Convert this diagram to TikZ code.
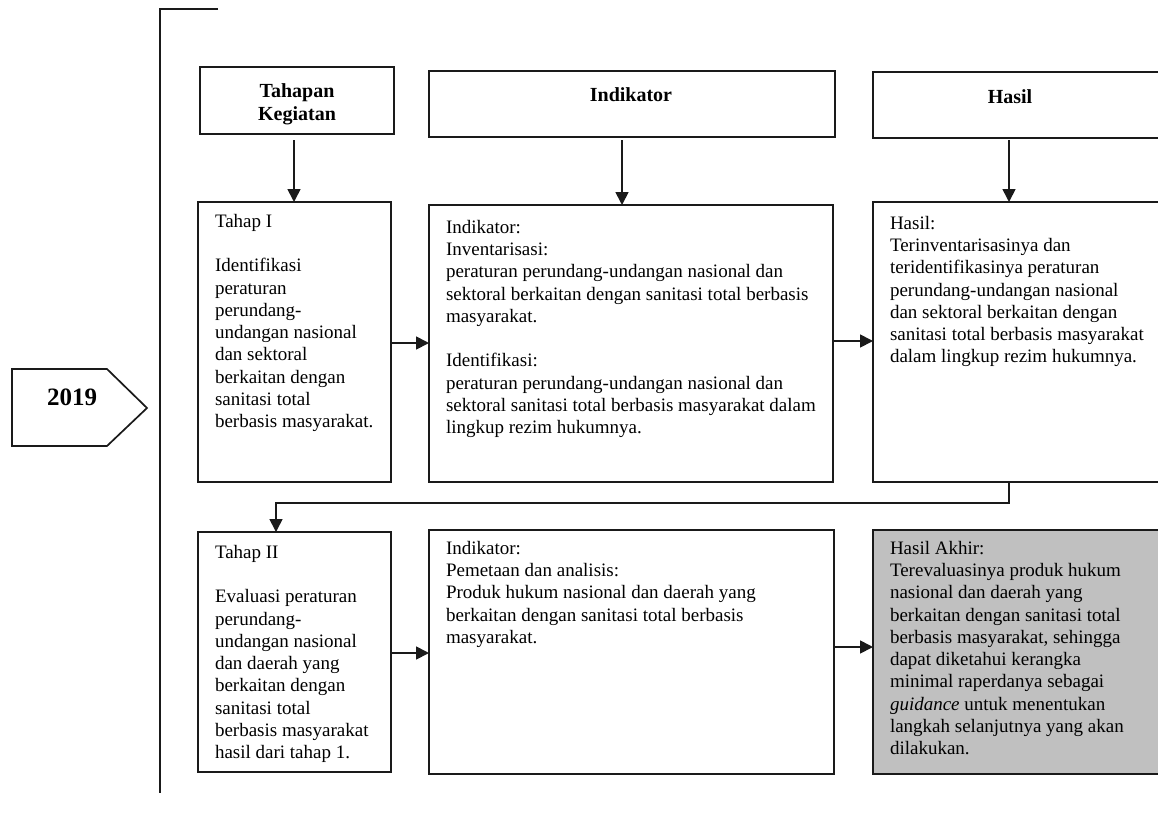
\documentclass[tikz,border=0pt]{standalone}
\usepackage{fontspec}
\setmainfont{Liberation Serif}
\usetikzlibrary{arrows.meta,calc}
\definecolor{linec}{HTML}{1A1A1A}
\definecolor{grayfill}{HTML}{C0C0C0}
\begin{document}
\begin{tikzpicture}[x=1pt,y=-1pt,
  box/.style={draw=linec, line width=1.7pt, inner sep=0pt, outer sep=0pt, anchor=north west},
  txt/.style={inner sep=0pt, outer sep=0pt, anchor=north west, align=left, font=\fontsize{19}{22.3}\selectfont, text=black},
  head/.style={inner sep=0pt, outer sep=0pt, align=center, font=\bfseries\fontsize{20}{23}\selectfont, text=black},
  arr/.style={draw=linec, line width=1.7pt, -{Triangle[length=13pt,width=13pt]}},
  ln/.style={draw=linec, line width=1.7pt}]
\useasboundingbox (0,0) rectangle (1158,822);

% left bracket line
\draw[ln] (218,9) -- (160,9) -- (160,793);

% year marker
\draw[ln] (12,369) -- (107,369) -- (147,408) -- (107,446) -- (12,446) -- cycle;
\node[font=\bfseries\fontsize{25}{30}\selectfont, anchor=base, inner sep=0pt] (year) at (72,405) {2019};

% header boxes
\node[box, minimum width=194pt, minimum height=67pt] (h1) at (200,67) {};
\node[box, minimum width=406pt, minimum height=66pt] (h2) at (429,71) {};
\node[box, minimum width=289pt, minimum height=66pt] (h3) at (873,72) {};
\node[head, anchor=north] (h1t) at (297,83.5) {Tahapan\\Kegiatan};
\node[head, anchor=base] (h2t) at (631,101) {Indikator};
\node[head, anchor=base] (h3t) at (1010,103) {Hasil};

% row 1
\node[box, minimum width=193pt, minimum height=280pt] (b11) at (198,202) {};
\node[box, minimum width=404pt, minimum height=277pt] (b12) at (429,205) {};
\node[box, minimum width=289pt, minimum height=280pt] (b13) at (873,202) {};

% row 2
\node[box, minimum width=193pt, minimum height=240pt] (b21) at (198,532) {};
\node[box, minimum width=405pt, minimum height=244pt] (b22) at (429,530) {};
\node[box, fill=grayfill, minimum width=289pt, minimum height=244pt] (b23) at (873,530) {};

% texts
\node[txt] (t11) at (215,214) {Tahap I\\[22.3pt]Identifikasi\\peraturan\\perundang-\\undangan nasional\\dan sektoral\\berkaitan dengan\\sanitasi total\\berbasis masyarakat.};
\node[txt] (t12) at (446,220) {Indikator:\\Inventarisasi:\\peraturan perundang-undangan nasional dan\\sektoral berkaitan dengan sanitasi total berbasis\\masyarakat.\\[22.3pt]Identifikasi:\\peraturan perundang-undangan nasional dan\\sektoral sanitasi total berbasis masyarakat dalam\\lingkup rezim hukumnya.};
\node[txt] (t13) at (890,216) {Hasil:\\Terinventarisasinya dan\\teridentifikasinya peraturan\\perundang-undangan nasional\\dan sektoral berkaitan dengan\\sanitasi total berbasis masyarakat\\dalam lingkup rezim hukumnya.};
\node[txt] (t21) at (215,545) {Tahap II\\[22.3pt]Evaluasi peraturan\\perundang-\\undangan nasional\\dan daerah yang\\berkaitan dengan\\sanitasi total\\berbasis masyarakat\\hasil dari tahap 1.};
\node[txt] (t22) at (446,541) {Indikator:\\Pemetaan dan analisis:\\Produk hukum nasional dan daerah yang\\berkaitan dengan sanitasi total berbasis\\masyarakat.};
\node[txt] (t23) at (890,541) {Hasil Akhir:\\Terevaluasinya produk hukum\\nasional dan daerah yang\\berkaitan dengan sanitasi total\\berbasis masyarakat, sehingga\\dapat diketahui kerangka\\minimal raperdanya sebagai\\\textit{guidance} untuk menentukan\\langkah selanjutnya yang akan\\dilakukan.};

% vertical arrows from headers
\coordinate (a1) at (294,140);
\coordinate (a2) at (622,140);
\coordinate (a3) at (1009,140);
\draw[arr] (a1) -- (a1 |- b11.north);
\draw[arr] (a2) -- (a2 |- b12.north);
\draw[arr] (a3) -- (a3 |- b13.north);

% horizontal arrows
\coordinate (r1) at (0,343);
\coordinate (r2) at (0,341);
\coordinate (r3) at (0,653);
\coordinate (r4) at (0,647);
\draw[arr] (b11.east |- r1) -- (b12.west |- r1);
\draw[arr] (b12.east |- r2) -- (b13.west |- r2);
\draw[arr] (b21.east |- r3) -- (b22.west |- r3);
\draw[arr] (b22.east |- r4) -- (b23.west |- r4);

% connector from row 1 to row 2
\coordinate (c1) at (276,503);
\draw[arr] (a3 |- b13.south) |- (c1) -- (c1 |- b21.north);
\end{tikzpicture}
\end{document}
